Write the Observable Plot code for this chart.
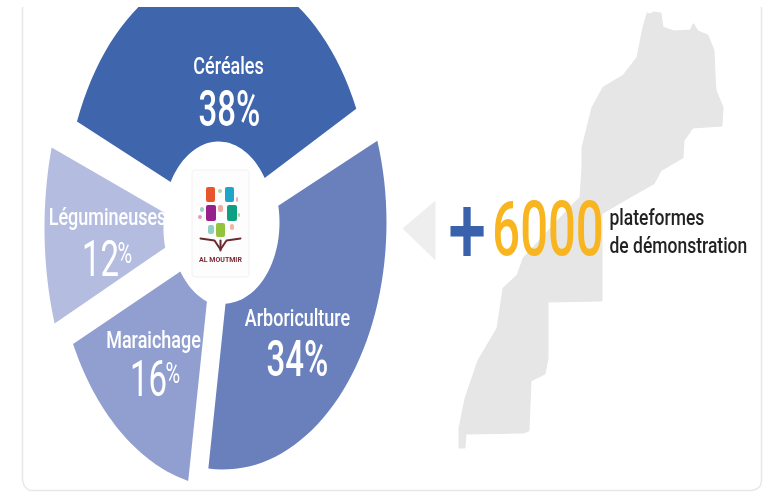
<!DOCTYPE html>
<html lang="fr"><head><meta charset="utf-8">
<script src="https://cdn.jsdelivr.net/npm/d3@7"></script>
<script src="https://cdn.jsdelivr.net/npm/@observablehq/plot@0.6"></script>
<style>html,body{margin:0;padding:0;background:#fff;overflow:hidden}svg{display:block;filter:blur(.6px)}</style>
</head><body><div id="chart"></div>
<script>
// --- data
const categories = ["Céréales", "Arboriculture", "Maraichage", "Légumineuses"];
const shares = [38, 34, 16, 12];
const headlineSign = "+";
const headlineValue = "6000";
const headlineLines = ["plateformes", "de démonstration"];
const logoName = "AL MOUTMIR";

// --- layout (image pixels)
const W = 767, H = 497, cx = 218, cy = 225;
const rInner = 56, halfGap = 11, startDeg = -70;
// each wedge is slightly offset and stretched, as in the picture
const wedge = [
  {ox:0, oy:0,   rx:155, ry:255, inS:1.5,  gapIn:11},
  {ox:5, oy:-3,  rx:163, ry:247, inS:1.45, gapIn:11},
  {ox:8, oy:0,   rx:172, ry:262, inS:1.45, gapIn:11},
  {ox:1, oy:2.5, rx:175, ry:285, inS:1.45, gapIn:9}
];
const colors = ["#3f65ad", "#6a80bd", "#919fd0", "#b4bde0"];
const labelAt = [[228, 66], [297, 318], [153, 340], [107, 217]];
const valueAt = [[229, 110], [297, 360], [148, 380], [100, 260]];
const pctSmall = [false, false, true, true];
const mapX = [653,660,662,673,690,693,697,707,713,714,715,722,721,692,683,682,660,653,623,601,601,547,547,544,530,528,523,465,464,459,459,465,478,497,503,517,523,570,580,582,582,592,603,623,637,643,647];
const mapY = [12,13,27,31,30,24,31,35,50,73,90,107,125,127,140,157,170,183,200,213,300,301,358,373,380,430,432,433,447,447,428,398,360,328,288,275,258,207,197,167,147,107,87,75,57,27,13];
const arrowX = [402, 435, 435], arrowY = [228, 200, 260];
const cardX = [22,22,24,29,752,757,760,761,761], cardY = [7,480,486,490,490,488,485,480,7];
const logoCard = [{x1:192,x2:249,y1:170,y2:277}];
const blocks = [
  [206,215,187,202,"#e8552d"],[225,234,187,202,"#1ea5c9"],[206,216,205,221,"#97208c"],[227,237,205,221,"#0f9f83"],[216,225,223,237,"#93c23c"],
  [200,204,207,212,"#9fd0c4"],[218,223,205,212,"#f2a9a0"],[218,222,189,193,"#b8d49a"],[236,238,197,202,"#eea3c0"],[208,214,225,234,"#8fd0c6"],[230,234,224,230,"#f3b39c"],[198,202,215,219,"#e59ac0"],[238,240,213,217,"#a8cf8f"]
].map(([x1,x2,y1,y2,fill]) => ({x1,x2,y1,y2,fill}));
const book = [[200,238],[214,240],[220,249],[226,240],[240,238]];
const stem = [[220,240],[220,250]];

// --- slices built from the shares
const pie = d3.pie().sort(null).value(d => d).startAngle(startDeg*Math.PI/180).endAngle((startDeg+360)*Math.PI/180)(shares);
const slices = pie.flatMap((p, k) => {
  const w = wedge[k], pts = [], n = 48, x0 = cx + w.ox, y0 = cy + w.oy;
  const a0 = p.startAngle + halfGap/w.rx, a1 = p.endAngle - halfGap/w.rx;
  const b0 = p.startAngle + w.gapIn/rInner, b1 = p.endAngle - w.gapIn/rInner;
  for (let i=0;i<=n;i++){const a=a0+(a1-a0)*i/n;pts.push({k,x:x0+w.rx*Math.sin(a),y:y0-w.ry*Math.cos(a)});}
  for (let i=0;i<=n;i++){const a=b1+(b0-b1)*i/n;pts.push({k,x:x0+rInner*Math.sin(a),y:y0-w.inS*rInner*Math.cos(a)});}
  return pts;
});
const zip = (xs, ys) => xs.map((x,i) => ({x, y: ys[i]}));
const scaled = (sx, sy) => (index, scales, values, dims, ctx, next) => {
  const g = next(index, scales, values, dims, ctx);
  g.querySelectorAll("text").forEach(t => t.setAttribute("transform", (t.getAttribute("transform")||"") + ` scale(${sx},${sy})`));
  return g;
};
const rows = categories.map((name,i) => ({name, share: shares[i], lx: labelAt[i][0], ly: labelAt[i][1], vx: valueAt[i][0], vy: valueAt[i][1], small: pctSmall[i]}));
const font = "Roboto, sans-serif";

const plot = Plot.plot({
  width: W, height: H, margin: 0, marginTop: 7,
  x: {domain: [0, W], range: [0, W], axis: null},
  y: {domain: [7, H], range: [7, H], axis: null},
  marks: [
    Plot.line(zip(cardX, cardY), {x:"x", y:"y", stroke:"#e8e8e8", strokeWidth:1.5}),
    Plot.line(zip(mapX, mapY), {x:"x", y:"y", fill:"#e6e6e6", stroke:"#e6e6e6", strokeWidth:2, strokeLinejoin:"round", clip:"frame"}),
    Plot.line(zip(arrowX, arrowY), {x:"x", y:"y", fill:"#eeeeee"}),
    Plot.line(slices, {x:"x", y:"y", z:"k", fill: d => colors[d.k], stroke:"none", clip:"frame"}),
    Plot.rect(logoCard, {x1:"x1", x2:"x2", y1:"y1", y2:"y2", fill:"#fdfdfd", stroke:"#f1f1f1", rx:3}),
    Plot.rect(blocks, {x1:"x1", x2:"x2", y1:"y1", y2:"y2", fill:d=>d.fill, rx:2}),
    Plot.line(book, {x:d=>d[0], y:d=>d[1], stroke:"#6b2a30", strokeWidth:2}),
    Plot.line(stem, {x:d=>d[0], y:d=>d[1], stroke:"#6b2a30", strokeWidth:2}),
    Plot.text([logoName], {x:220, y:259, text:d=>d, fontSize:7, fontWeight:700, fill:"#7a2a35", fontFamily:font}),
    Plot.text(rows, {x:"lx", y:"ly", text:"name", fill:"#fff", fontSize:18, fontWeight:500, fontFamily:font, render: scaled(1,1.3)}),
    Plot.text(rows.filter(d=>!d.small), {x:"vx", y:"vy", text:d=>d.share+"%", fill:"#fff", fontSize:33, fontWeight:500, fontFamily:font, render: scaled(1,1.5)}),
    Plot.text(rows.filter(d=>d.small), {x:"vx", y:"vy", text:d=>String(d.share), fill:"#fff", fontSize:33, fontWeight:400, fontFamily:font, render: scaled(1,1.5)}),
    Plot.text(rows.filter(d=>d.small), {x:d=>d.vx+17, y:d=>d.vy-7, textAnchor:"start", text:()=>"%", fill:"#fff", fontSize:20, fontWeight:400, fontFamily:font, render: scaled(1,1.45)}),
    Plot.text([headlineSign], {x:466.5, y:233, text:d=>d, fill:"#3a62ac", fontSize:66, fontWeight:700, fontFamily:"Liberation Sans, sans-serif", render: scaled(1,1.45)}),
    Plot.text([headlineValue], {x:547.5, y:230, text:d=>d, fill:"#f9b520", fontSize:49, fontWeight:500, fontFamily:font, render: scaled(1,1.55)}),
    Plot.text(headlineLines, {x:609, y:(d,i)=>[217,245][i], text:d=>d, textAnchor:"start", fill:"#222", fontSize:17.5, fontWeight:500, fontFamily:font, render: scaled(1,1.25)})
  ]
});
document.getElementById("chart").append(plot);
</script></body></html>
